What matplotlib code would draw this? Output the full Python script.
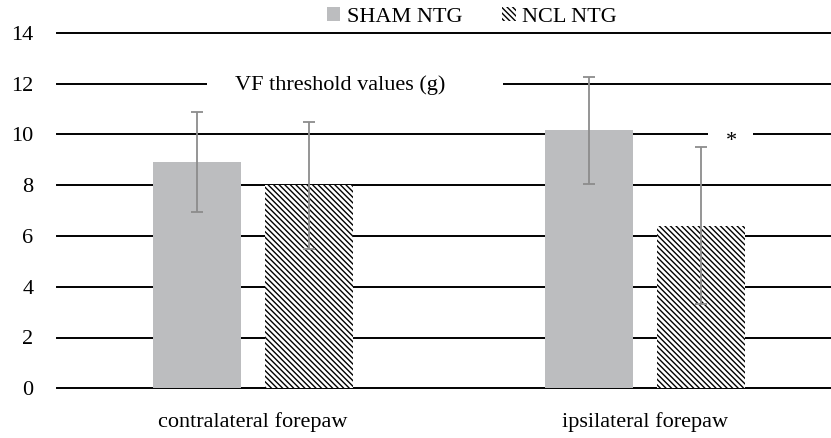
import matplotlib
matplotlib.use("Agg")
import matplotlib.pyplot as plt
from matplotlib.patches import Patch, Rectangle
import numpy as np

# Data
categories = ["contralateral forepaw", "ipsilateral forepaw"]
series_names = ["SHAM NTG", "NCL NTG"]
sham_values = [8.9, 10.15]
sham_err = [1.97, 2.1]
ncl_values = [8.0, 6.4]
ncl_err = [2.5, 3.1]
y_ticks = [0, 2, 4, 6, 8, 10, 12, 14]
title_text = "VF threshold values (g)"
sig_marker = "*"

plt.rcParams['font.family'] = ['Liberation Serif', 'DejaVu Serif']
plt.rcParams['hatch.linewidth'] = 1.0
plt.rcParams['hatch.color'] = 'black'

fig = plt.figure(figsize=(8.31, 4.38), dpi=100)
ax = fig.add_axes([57/831, 49.7/438, 784/831, 355.6/438])

x = np.arange(len(categories))
bw = 0.2245
off = 0.1425
gray = '#bcbdbf'
errc = '#8c8c8c'
HATCH = '\\' * 6

ax.bar(x - off, sham_values, bw, color=gray, zorder=3)
ax.bar(x + off, ncl_values, bw, color='white', edgecolor='black', hatch=HATCH, linewidth=0, zorder=3)
ax.errorbar(x - off, sham_values, yerr=sham_err, fmt='none', ecolor=errc, elinewidth=1.3,
            capsize=4, capthick=1.3, zorder=4)
ax.errorbar(x + off, ncl_values, yerr=ncl_err, fmt='none', ecolor=errc, elinewidth=1.3,
            capsize=4, capthick=1.3, zorder=4)

ax.set_xlim(-0.5, 1.5)
ax.set_ylim(0, 14)
ax.set_yticks(y_ticks)
ax.set_yticklabels([str(t) for t in y_ticks])
ax.set_xticks(x)
ax.set_xticklabels(categories)
ax.tick_params(axis='both', length=0, labelsize=16)
ax.tick_params(axis='y', pad=17)
ax.tick_params(axis='x', pad=17)
for s in ax.spines.values():
    s.set_visible(False)
for t in y_ticks:
    ax.axhline(t, color='black', lw=1.4, zorder=1, clip_on=False)

tr = ax.get_yaxis_transform()
# title box over grid line 12
ax.add_patch(Rectangle(((207 - 57) / 784, 11.5), (503 - 207) / 784, 1.0,
                       transform=tr, facecolor='white', edgecolor='none', zorder=1.5))
ax.text((340 - 57) / 784, 11.95, title_text, ha='center', va='center', fontsize=16, zorder=2,
        transform=tr)
# significance marker
ax.add_patch(Rectangle(((708 - 57) / 784, 9.55), 45 / 784, 0.9,
                       transform=tr, facecolor='white', edgecolor='none', zorder=1.5))
ax.text((731 - 57) / 784, 9.72, sig_marker, ha='center', va='center', fontsize=16, zorder=2,
        transform=tr)

handles = [Patch(facecolor=gray, edgecolor='none', label=series_names[0]),
           Patch(facecolor='white', edgecolor='black', hatch=HATCH, linewidth=0, label=series_names[1])]
fig.legend(handles=handles, loc='center', bbox_to_anchor=(472/831, 1 - 17/438), ncol=2, frameon=False,
           fontsize=16, handlelength=0.6, handleheight=0.6, handletextpad=0.3, columnspacing=1.8,
           borderaxespad=0, borderpad=0)

fig.savefig('out.png', dpi=100)
